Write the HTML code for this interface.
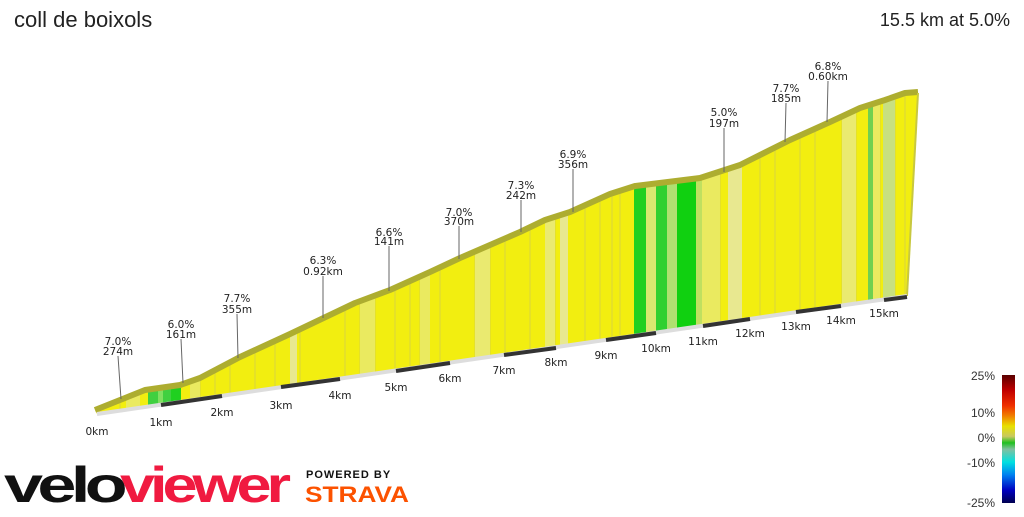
<!DOCTYPE html>
<html><head><meta charset="utf-8"><style>
body{margin:0;width:1024px;height:512px;background:#fff;overflow:hidden;font-family:"Liberation Sans",sans-serif}
</style></head><body>
<svg width="1024" height="512" xmlns="http://www.w3.org/2000/svg">
<defs>
<clipPath id="cp"><polygon points="95,410 145,390 180,385 200,378 240,357 290,334 355,303 390,290 430,272 460,258 520,232 545,220 570,212 610,194 635,186 700,178 740,165 790,140 830,122 860,108 885,100 905,93 918,92 907,296 97,414"/></clipPath>
<linearGradient id="lg" x1="0" y1="0" x2="0" y2="1">
<stop offset="0" stop-color="#5a0000"/><stop offset="0.12" stop-color="#c00000"/><stop offset="0.24" stop-color="#f03000"/><stop offset="0.32" stop-color="#f08000"/><stop offset="0.4" stop-color="#e8e000"/><stop offset="0.48" stop-color="#c8c860"/><stop offset="0.53" stop-color="#20c020"/><stop offset="0.58" stop-color="#80c0a0"/><stop offset="0.68" stop-color="#00e0e0"/><stop offset="0.78" stop-color="#0080f0"/><stop offset="0.9" stop-color="#0000c0"/><stop offset="1" stop-color="#000050"/></linearGradient>
</defs>
<text x="14" y="27" font-size="22" fill="#222">coll de boixols</text>
<text x="1010" y="26" font-size="18" fill="#222" text-anchor="end">15.5 km at 5.0%</text>
<g clip-path="url(#cp)">
<rect x="0" y="0" width="1024" height="512" fill="#f2ee10"/>
<g stroke="#d8d440" stroke-width="1">
<path d="M120 0V512M160 0V512M200 0V512M215 0V512M230 0V512M255 0V512M275 0V512M300 0V512M345 0V512M360 0V512M375 0V512M395 0V512M410 0V512M420 0V512M440 0V512M475 0V512M490 0V512M505 0V512M530 0V512M555 0V512M585 0V512M600 0V512M612 0V512M620 0V512M720 0V512M760 0V512M775 0V512M800 0V512M815 0V512M842 0V512M856 0V512M870 0V512M880 0V512M895 0V512M905 0V512"/>
</g>
<rect x="126" y="0" width="14" height="512" fill="#eaea60"/>
<rect x="148" y="0" width="10" height="512" fill="#40d040"/>
<rect x="158" y="0" width="5" height="512" fill="#80e060"/>
<rect x="163" y="0" width="8" height="512" fill="#40d040"/>
<rect x="171" y="0" width="10" height="512" fill="#20d020"/>
<rect x="190" y="0" width="10" height="512" fill="#eaea60"/>
<rect x="290" y="0" width="7" height="512" fill="#e8e890"/>
<rect x="360" y="0" width="15" height="512" fill="#eaea60"/>
<rect x="420" y="0" width="10" height="512" fill="#eaea60"/>
<rect x="475" y="0" width="15" height="512" fill="#eaea70"/>
<rect x="545" y="0" width="10" height="512" fill="#eaea70"/>
<rect x="560" y="0" width="8" height="512" fill="#e8e890"/>
<rect x="634" y="0" width="12" height="512" fill="#20d020"/>
<rect x="646" y="0" width="10" height="512" fill="#d8e870"/>
<rect x="656" y="0" width="11" height="512" fill="#30d030"/>
<rect x="667" y="0" width="10" height="512" fill="#b0e070"/>
<rect x="677" y="0" width="19" height="512" fill="#10d010"/>
<rect x="696" y="0" width="6" height="512" fill="#c0e060"/>
<rect x="702" y="0" width="18" height="512" fill="#eaea60"/>
<rect x="728" y="0" width="14" height="512" fill="#e8e890"/>
<rect x="842" y="0" width="14" height="512" fill="#eaea70"/>
<rect x="868" y="0" width="5" height="512" fill="#70d050"/>
<rect x="873" y="0" width="7" height="512" fill="#eaea60"/>
<rect x="883" y="0" width="12" height="512" fill="#c8e080"/>
</g>
<polyline points="95,410 145,390 180,385 200,378 240,357 290,334 355,303 390,290 430,272 460,258 520,232 545,220 570,212 610,194 635,186 700,178 740,165 790,140 830,122 860,108 885,100 905,93 918,92" fill="none" stroke="#adad30" stroke-width="6" stroke-linejoin="round"/>
<line x1="918" y1="93" x2="907" y2="296" stroke="#c8c840" stroke-width="2"/>
<g stroke-width="4">
<line x1="97" y1="414" x2="907" y2="296" stroke="#ddd"/>
<path d="M161 405L222 396M281 387L340 379M396 371L450 363M504 355L556 348M606 340L656 333M703 326L750 319M796 312L841 306M884 300L907 297" stroke="#333"/>
</g>
<g font-size="10.5" fill="#222" text-anchor="middle" font-family="DejaVu Sans, sans-serif">
<text x="97" y="435">0km</text><text x="161" y="426">1km</text><text x="222" y="416">2km</text><text x="281" y="409">3km</text><text x="340" y="399">4km</text><text x="396" y="391">5km</text><text x="450" y="382">6km</text><text x="504" y="374">7km</text><text x="556" y="366">8km</text><text x="606" y="359">9km</text><text x="656" y="352">10km</text><text x="703" y="345">11km</text><text x="750" y="337">12km</text><text x="796" y="330">13km</text><text x="841" y="324">14km</text><text x="884" y="317">15km</text>
</g>
<g stroke="#666" stroke-width="1">
<path d="M118 356L121 399M181 339L183 383M237 314L238 358M323 276L323 318M389 246L389 291M459 226L459 259M521 200L521 232M573 169L573 212M724 128L724 172M786 103L785 142M828 81L827 122"/>
</g>
<g font-size="10.5" fill="#222" text-anchor="middle" font-family="DejaVu Sans, sans-serif">
<text x="118" y="345">7.0%</text><text x="118" y="355">274m</text>
<text x="181" y="328">6.0%</text><text x="181" y="338">161m</text>
<text x="237" y="302">7.7%</text><text x="237" y="313">355m</text>
<text x="323" y="264">6.3%</text><text x="323" y="275">0.92km</text>
<text x="389" y="236">6.6%</text><text x="389" y="245">141m</text>
<text x="459" y="216">7.0%</text><text x="459" y="225">370m</text>
<text x="521" y="189">7.3%</text><text x="521" y="199">242m</text>
<text x="573" y="158">6.9%</text><text x="573" y="168">356m</text>
<text x="724" y="116">5.0%</text><text x="724" y="127">197m</text>
<text x="786" y="92">7.7%</text><text x="786" y="102">185m</text>
<text x="828" y="70">6.8%</text><text x="828" y="80">0.60km</text>
</g>
<rect x="1002" y="375" width="13" height="128" fill="url(#lg)"/>
<g font-size="12" fill="#333" text-anchor="end">
<text x="995" y="380">25%</text><text x="995" y="417">10%</text><text x="995" y="442">0%</text><text x="995" y="467">-10%</text><text x="995" y="507">-25%</text>
</g>
<text x="4" y="502" font-size="50" font-weight="bold" letter-spacing="-4" fill="#111" textLength="118" lengthAdjust="spacingAndGlyphs">velo</text>
<text x="120" y="502" font-size="50" font-weight="bold" letter-spacing="-4" fill="#f01a40" textLength="166" lengthAdjust="spacingAndGlyphs">viewer</text>
<text x="306" y="478" font-size="11" font-weight="bold" fill="#111" letter-spacing="1">POWERED BY</text>
<text x="305" y="502" font-size="22" font-weight="bold" fill="#fc5200" textLength="104" lengthAdjust="spacingAndGlyphs">STRAVA</text>
</svg>
</body></html>
